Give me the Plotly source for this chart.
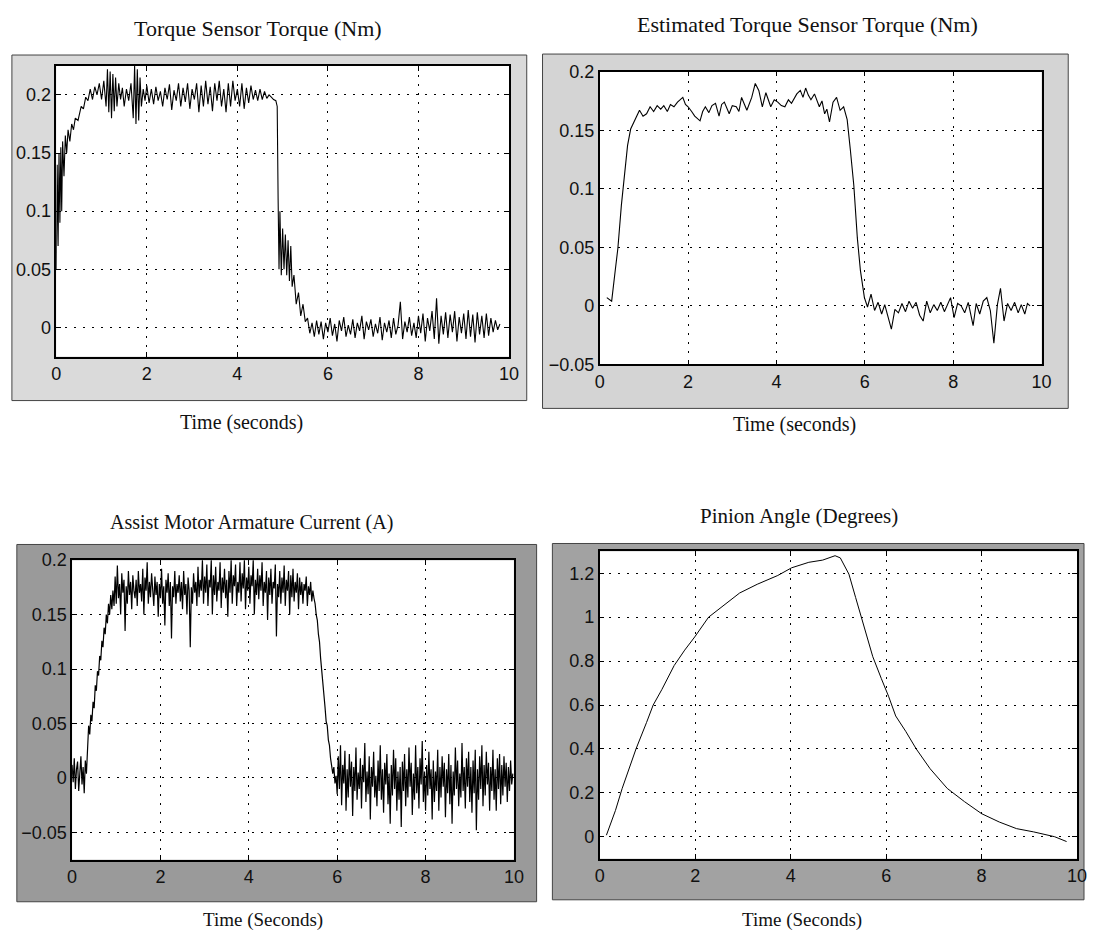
import plotly.graph_objects as go

W, H = 1094, 947

# ---- Torque sensor torque (Nm) ----
TS_T = [0.00, 0.02, 0.04, 0.06, 0.08, 0.10, 0.12, 0.14, 0.17, 0.20, 0.23, 0.26, 0.30, 0.34, 0.38,
        0.42, 0.48, 0.55, 0.60, 0.65, 0.70, 0.75, 0.80, 0.85, 0.90, 0.95, 1.00, 1.05, 1.10, 1.13,
        1.16, 1.19, 1.22, 1.25, 1.28, 1.31, 1.34, 1.38, 1.42, 1.46, 1.50, 1.55, 1.60, 1.65, 1.70,
        1.73, 1.76, 1.79, 1.82, 1.85, 1.88, 1.92, 1.96, 2.00, 2.05, 2.10, 2.15, 2.20, 2.25, 2.30,
        2.35, 2.40, 2.45, 2.50, 2.55, 2.60, 2.65, 2.70, 2.75, 2.80, 2.85, 2.90, 2.95, 3.00, 3.05,
        3.10, 3.15, 3.20, 3.25, 3.30, 3.35, 3.40, 3.45, 3.50, 3.55, 3.60, 3.65, 3.70, 3.75, 3.80,
        3.85, 3.90, 3.95, 4.00, 4.05, 4.10, 4.15, 4.20, 4.25, 4.30, 4.35, 4.40, 4.45, 4.50, 4.55,
        4.60, 4.65, 4.70, 4.75, 4.80, 4.85, 4.88, 4.90, 4.92, 4.94, 4.97, 5.00, 5.03, 5.06, 5.09,
        5.12, 5.15, 5.18, 5.21, 5.25, 5.30, 5.35, 5.40, 5.45, 5.50, 5.55, 5.60, 5.65, 5.70, 5.75,
        5.80, 5.85, 5.90, 5.95, 6.00, 6.05, 6.10, 6.15, 6.20, 6.25, 6.30, 6.35, 6.40, 6.45, 6.50,
        6.55, 6.60, 6.65, 6.70, 6.75, 6.80, 6.85, 6.90, 6.95, 7.00, 7.05, 7.10, 7.15, 7.20, 7.25,
        7.30, 7.35, 7.40, 7.45, 7.50, 7.55, 7.60, 7.65, 7.70, 7.75, 7.80, 7.85, 7.90, 7.95, 8.00,
        8.05, 8.10, 8.15, 8.20, 8.25, 8.30, 8.35, 8.40, 8.45, 8.50, 8.55, 8.60, 8.65, 8.70, 8.75,
        8.80, 8.85, 8.90, 8.95, 9.00, 9.05, 9.10, 9.15, 9.20, 9.25, 9.30, 9.35, 9.40, 9.45, 9.50,
        9.55, 9.60, 9.65, 9.70, 9.75, 9.80]
TS_V = [0.050, 0.140, 0.070, 0.150, 0.090, 0.155, 0.100, 0.160, 0.130, 0.165, 0.150, 0.170, 0.160, 0.175, 0.170,
        0.180, 0.178, 0.190, 0.188, 0.198, 0.195, 0.205, 0.196, 0.207, 0.200, 0.210, 0.196, 0.212, 0.190, 0.222,
        0.185, 0.220, 0.180, 0.218, 0.186, 0.215, 0.190, 0.210, 0.196, 0.206, 0.190, 0.205, 0.195, 0.210, 0.180,
        0.225, 0.175, 0.222, 0.178, 0.215, 0.190, 0.205, 0.195, 0.208, 0.193, 0.205, 0.192, 0.207, 0.195, 0.203,
        0.190, 0.206, 0.196, 0.209, 0.187, 0.204, 0.195, 0.210, 0.190, 0.206, 0.194, 0.210, 0.188, 0.205, 0.196,
        0.210, 0.185, 0.208, 0.190, 0.212, 0.192, 0.207, 0.186, 0.210, 0.195, 0.212, 0.190, 0.205, 0.185, 0.210,
        0.190, 0.212, 0.195, 0.205, 0.190, 0.210, 0.188, 0.206, 0.193, 0.208, 0.196, 0.204, 0.195, 0.205, 0.196,
        0.203, 0.197, 0.200, 0.198, 0.196, 0.195, 0.190, 0.110, 0.050, 0.100, 0.045, 0.085, 0.050, 0.080, 0.045,
        0.075, 0.040, 0.070, 0.035, 0.045, 0.020, 0.030, 0.010, 0.020, 0.005, 0.008, -0.005, 0.004, -0.008, 0.006,
        -0.006, 0.005, -0.010, 0.004, -0.004, 0.008, -0.007, 0.003, -0.012, 0.006, -0.003, 0.009, -0.008, 0.002, -0.006,
        0.007, -0.009, 0.004, -0.003, 0.010, -0.010, 0.005, -0.002, 0.007, -0.008, 0.003, -0.005, 0.009, -0.011, 0.004,
        -0.004, 0.006, -0.009, 0.008, -0.006, 0.002, 0.022, -0.010, 0.005, -0.004, 0.009, -0.007, 0.004, -0.009, 0.010,
        -0.005, 0.012, -0.012, 0.008, -0.003, 0.014, -0.010, 0.025, -0.014, 0.010, -0.006, 0.013, -0.009, 0.011, -0.004,
        0.014, -0.012, 0.009, -0.005, 0.012, -0.010, 0.015, -0.008, 0.011, -0.013, 0.013, -0.006, 0.010, -0.009, 0.012,
        -0.007, 0.008, -0.004, 0.006, -0.002, 0.003]

# ---- Estimated torque sensor torque (Nm) ----
ES_T = [0.16, 0.27, 0.35, 0.41, 0.49, 0.55, 0.63, 0.70, 0.78, 0.90, 0.98, 1.06, 1.14, 1.22, 1.30,
        1.38, 1.45, 1.53, 1.60, 1.68, 1.76, 1.88, 1.94, 2.00, 2.08, 2.15, 2.27, 2.33, 2.39, 2.47,
        2.54, 2.62, 2.70, 2.76, 2.82, 2.93, 3.00, 3.09, 3.15, 3.21, 3.33, 3.44, 3.52, 3.60, 3.68,
        3.76, 3.87, 3.95, 4.03, 4.11, 4.19, 4.27, 4.34, 4.40, 4.46, 4.54, 4.60, 4.66, 4.72, 4.78,
        4.86, 4.97, 5.03, 5.09, 5.14, 5.20, 5.28, 5.36, 5.44, 5.52, 5.60, 5.67, 5.75, 5.83, 5.90,
        5.99, 6.06, 6.14, 6.22, 6.30, 6.38, 6.45, 6.52, 6.60, 6.68, 6.76, 6.84, 6.92, 7.00, 7.08,
        7.16, 7.24, 7.32, 7.40, 7.48, 7.56, 7.64, 7.72, 7.80, 7.88, 7.94, 8.02, 8.10, 8.18, 8.26,
        8.34, 8.45, 8.52, 8.60, 8.68, 8.76, 8.84, 8.92, 9.00, 9.07, 9.15, 9.23, 9.31, 9.39, 9.47,
        9.54, 9.62, 9.68, 9.74]
ES_V = [0.007, 0.004, 0.030, 0.049, 0.086, 0.106, 0.137, 0.151, 0.158, 0.167, 0.162, 0.164, 0.170, 0.166, 0.171,
        0.168, 0.171, 0.166, 0.172, 0.170, 0.174, 0.178, 0.172, 0.170, 0.166, 0.162, 0.158, 0.166, 0.170, 0.165,
        0.171, 0.173, 0.162, 0.172, 0.174, 0.164, 0.171, 0.170, 0.166, 0.178, 0.167, 0.178, 0.190, 0.184, 0.170,
        0.182, 0.170, 0.176, 0.174, 0.171, 0.170, 0.176, 0.173, 0.177, 0.181, 0.184, 0.178, 0.186, 0.180, 0.176,
        0.181, 0.170, 0.175, 0.164, 0.168, 0.157, 0.174, 0.178, 0.167, 0.170, 0.159, 0.134, 0.103, 0.058, 0.030,
        0.007, -0.001, 0.010, -0.004, 0.003, -0.007, 0.001, -0.008, -0.020, -0.003, -0.006, 0.002, -0.005, 0.004, -0.002,
        0.003, -0.008, -0.013, 0.004, -0.006, 0.001, -0.004, 0.003, -0.005, 0.002, 0.007, -0.010, 0.002, 0.000, -0.006,
        0.003, -0.017, 0.002, -0.007, 0.004, 0.007, -0.004, -0.032, 0.001, 0.015, -0.013, 0.002, -0.004, 0.003, -0.006,
        0.001, -0.007, 0.002, 0.000]

# ---- Assist motor armature current (A), sampled every 0.025 s from t = 0 ----
AC_START, AC_STEP = 0.0, 0.025
AC_V = [
    # idle before the step
    0.012, -0.004, 0.018, -0.010, 0.008, 0.015, -0.012, 0.006, 0.020, -0.006, 0.010, -0.014, 0.016, 0.004,
    # rise
    0.030, 0.048, 0.040, 0.058, 0.052, 0.070, 0.064, 0.085, 0.080, 0.098, 0.094, 0.112, 0.108, 0.126, 0.120,
    0.138, 0.132, 0.150, 0.142, 0.160, 0.150, 0.168, 0.155, 0.172, 0.158,
    # plateau
    0.185, 0.160, 0.195, 0.165, 0.178, 0.150, 0.188, 0.170, 0.182, 0.135, 0.176, 0.160, 0.190, 0.168, 0.180, 0.155, 0.186, 0.172, 0.165, 0.182,
    0.158, 0.190, 0.170, 0.178, 0.162, 0.192, 0.150, 0.184, 0.172, 0.198, 0.160, 0.180, 0.166, 0.188, 0.175, 0.158, 0.185, 0.168, 0.180, 0.148,
    0.178, 0.165, 0.192, 0.160, 0.176, 0.140, 0.182, 0.170, 0.188, 0.158, 0.180, 0.128, 0.176, 0.166, 0.190, 0.160, 0.178, 0.170, 0.186, 0.162,
    0.180, 0.155, 0.190, 0.168, 0.178, 0.150, 0.184, 0.172, 0.120, 0.175, 0.160, 0.188, 0.170, 0.180, 0.158, 0.194, 0.166, 0.182, 0.172, 0.200,
    0.160, 0.185, 0.170, 0.196, 0.158, 0.182, 0.175, 0.200, 0.150, 0.186, 0.168, 0.194, 0.162, 0.180, 0.172, 0.198, 0.156, 0.184, 0.170, 0.192,
    0.165, 0.182, 0.148, 0.190, 0.170, 0.200, 0.160, 0.186, 0.176, 0.196, 0.158, 0.180, 0.170, 0.198, 0.162, 0.188, 0.174, 0.200, 0.155, 0.184,
    0.172, 0.194, 0.160, 0.186, 0.176, 0.200, 0.150, 0.182, 0.168, 0.192, 0.164, 0.186, 0.172, 0.198, 0.158, 0.180, 0.170, 0.190, 0.145, 0.184,
    0.168, 0.192, 0.160, 0.180, 0.174, 0.196, 0.130, 0.178, 0.166, 0.190, 0.160, 0.184, 0.170, 0.195, 0.158, 0.182, 0.172, 0.190, 0.150, 0.186,
    0.166, 0.192, 0.162, 0.180, 0.170, 0.188, 0.155, 0.184, 0.168, 0.180, 0.160, 0.178, 0.172, 0.185, 0.158, 0.176, 0.168, 0.180, 0.162, 0.172,
    # release
    0.165, 0.160, 0.150, 0.145, 0.132, 0.125, 0.110, 0.100, 0.088, 0.075, 0.065, 0.052, 0.048, 0.035, 0.030,
    0.018, 0.012, 0.004, 0.010, -0.005, 0.002,
    # idle after release
    -0.015, 0.020, -0.010, 0.030, -0.025, 0.012, -0.005, 0.025, -0.030, 0.008, -0.018, 0.022, -0.008, 0.015, -0.035, 0.010, -0.012, 0.028, -0.020, 0.005,
    -0.010, 0.018, -0.028, 0.012, -0.004, 0.032, -0.022, 0.006, -0.015, 0.020, -0.038, 0.010, -0.008, 0.024, -0.018, 0.002, -0.026, 0.016, -0.012, 0.030,
    -0.020, 0.008, -0.032, 0.014, -0.006, 0.022, -0.024, 0.004, -0.042, 0.012, -0.016, 0.026, -0.010, 0.018, -0.030, 0.006, -0.020, 0.010, -0.045, 0.015,
    -0.012, 0.022, -0.026, 0.008, -0.018, 0.028, -0.008, 0.014, -0.034, 0.004, -0.020, 0.030, -0.014, 0.010, -0.028, 0.018, -0.006, 0.034, -0.022, 0.006,
    -0.030, 0.012, -0.016, 0.024, -0.010, 0.008, -0.038, 0.016, -0.022, 0.006, -0.012, 0.026, -0.030, 0.010, -0.018, 0.020, -0.008, 0.014, -0.036, 0.008,
    -0.014, 0.022, -0.024, 0.012, -0.042, 0.006, -0.016, 0.028, -0.010, 0.016, -0.026, 0.004, -0.018, 0.032, -0.012, 0.010, -0.028, 0.018, -0.008, 0.024,
    -0.022, 0.010, -0.032, 0.016, -0.014, 0.026, -0.048, 0.008, -0.020, 0.020, -0.010, 0.030, -0.026, 0.012, -0.016, 0.024, -0.006, 0.014, -0.030, 0.010,
    -0.012, 0.026, -0.020, 0.008, -0.030, 0.018, -0.010, 0.022, -0.024, 0.012, -0.016, 0.020, -0.008, 0.014, -0.022, 0.010, -0.012, 0.016, -0.006, 0.004,
]

# ---- Pinion angle (degrees) ----
PA_T = [0.14, 0.33, 0.47, 0.62, 0.76, 0.98, 1.12, 1.30, 1.56, 1.78, 1.99, 2.28, 2.57, 2.93, 3.30,
        3.73, 4.02, 4.38, 4.67, 4.93, 5.04, 5.22, 5.36, 5.54, 5.72, 5.90, 6.05, 6.20, 6.41, 6.63,
        6.92, 7.28, 7.64, 8.00, 8.37, 8.73, 9.09, 9.53, 9.78]
PA_V = [0.007, 0.120, 0.220, 0.310, 0.400, 0.520, 0.600, 0.670, 0.780, 0.850, 0.910, 1.000, 1.050, 1.110, 1.150,
        1.190, 1.225, 1.250, 1.260, 1.280, 1.270, 1.196, 1.090, 0.957, 0.820, 0.720, 0.640, 0.550, 0.480, 0.400,
        0.310, 0.220, 0.160, 0.105, 0.067, 0.037, 0.022, 0.000, -0.022]

X_TICKS = [0, 2, 4, 6, 8, 10]
PANELS = [
    dict(title="Torque Sensor Torque (Nm)", xlabel="Time (seconds)",
         trace=dict(x=TS_T, y=TS_V), width=1.1,
         yr=[-0.025, 0.225], yt=[0, 0.05, 0.1, 0.15, 0.2],
         plot=(52, 57, 511, 354), frame=(7, 46, 529, 399), bg="#dadada",
         title_xy=(257, 19), title_size=22, label_xy=(240, 421), label_size=20),
    dict(title="Estimated Torque Sensor Torque (Nm)", xlabel="Time (seconds)",
         trace=dict(x=ES_T, y=ES_V), width=1.1,
         yr=[-0.05, 0.2], yt=[-0.05, 0, 0.05, 0.1, 0.15, 0.2],
         plot=(603, 63, 1051, 362), frame=(545, 45, 1078, 407), bg="#d4d4d4",
         title_xy=(814, 15), title_size=22, label_xy=(800, 423), label_size=20),
    dict(title="Assist Motor Armature Current (A)", xlabel="Time (Seconds)",
         trace=dict(y=AC_V, x0=AC_START, dx=AC_STEP), width=1.2,
         yr=[-0.075, 0.2], yt=[-0.05, 0, 0.05, 0.1, 0.15, 0.2],
         plot=(68, 562, 516, 868), frame=(12, 546, 539, 911), bg="#9a9a9a",
         title_xy=(250, 524), title_size=20, label_xy=(262, 930), label_size=19),
    dict(title="Pinion Angle (Degrees)", xlabel="Time (Seconds)",
         trace=dict(x=PA_T, y=PA_V), width=1.0,
         yr=[-0.1, 1.3], yt=[0, 0.2, 0.4, 0.6, 0.8, 1, 1.2],
         plot=(603, 553, 1087, 867), frame=(555, 545, 1094, 909), bg="#a2a2a2",
         title_xy=(805, 517), title_size=21, label_xy=(808, 930), label_size=19),
]


def px(x):
    return x / W


def py(y):
    return 1 - y / H


fig = go.Figure()
shapes, annotations = [], []
serif = "Liberation Serif, Times New Roman, serif"
tickfont = dict(family="Liberation Sans, Arial, sans-serif", size=18, color="#111")

for i, p in enumerate(PANELS, start=1):
    x0, y0, x1, y1 = p["plot"]
    fx0, fy0, fx1, fy1 = p["frame"]
    sfx = "" if i == 1 else str(i)
    shapes.append(dict(type="rect", xref="paper", yref="paper",
                       x0=px(fx0), x1=px(fx1), y0=py(fy1), y1=py(fy0),
                       fillcolor=p["bg"], line=dict(color="#444", width=1), layer="below"))
    shapes.append(dict(type="rect", xref="paper", yref="paper",
                       x0=px(x0), x1=px(x1), y0=py(y1), y1=py(y0),
                       fillcolor="white", line=dict(width=0), layer="below"))
    fig.add_trace(go.Scatter(mode="lines", line=dict(color="black", width=p["width"]),
                             xaxis=f"x{sfx}", yaxis=f"y{sfx}",
                             showlegend=False, hoverinfo="skip", **p["trace"]))
    common = dict(showline=True, linecolor="black", linewidth=1.5, mirror="ticks",
                  ticks="inside", ticklen=5, tickcolor="black",
                  showgrid=True, gridcolor="black", gridwidth=1, griddash="2px,7px",
                  zeroline=False, tickfont=tickfont)
    fig.layout[f"xaxis{sfx}"] = dict(domain=[px(x0), px(x1)], range=[0, 10], tickvals=X_TICKS,
                                     anchor=f"y{sfx}", **common)
    fig.layout[f"yaxis{sfx}"] = dict(domain=[py(y1), py(y0)], range=p["yr"], tickvals=p["yt"],
                                     anchor=f"x{sfx}", **common)
    annotations.append(dict(text=p["title"], xref="paper", yref="paper",
                            x=px(p["title_xy"][0]), y=py(p["title_xy"][1]),
                            showarrow=False, xanchor="center", yanchor="middle",
                            font=dict(family=serif, size=p["title_size"], color="#111")))
    annotations.append(dict(text=p["xlabel"], xref="paper", yref="paper",
                            x=px(p["label_xy"][0]), y=py(p["label_xy"][1]),
                            showarrow=False, xanchor="center", yanchor="middle",
                            font=dict(family=serif, size=p["label_size"], color="#111")))

fig.update_layout(width=W, height=H, margin=dict(l=0, r=0, t=0, b=0),
                  paper_bgcolor="white", plot_bgcolor="rgba(0,0,0,0)",
                  shapes=shapes, annotations=annotations)
fig.write_html("out.html")
